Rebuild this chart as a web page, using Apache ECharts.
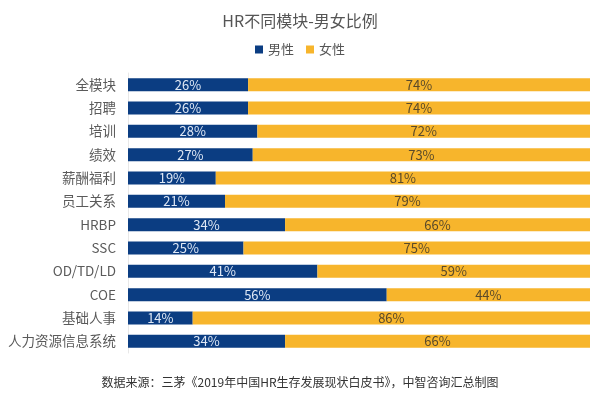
<!DOCTYPE html>
<html><head><meta charset="utf-8">
<script src="https://cdn.jsdelivr.net/npm/echarts@6/dist/echarts.min.js"></script>
<style>html,body{margin:0;padding:0;background:#fff}#c{width:600px;height:400px}</style>
</head><body><div id="c"></div>
<script>
const categories = ['全模块','招聘','培训','绩效','薪酬福利','员工关系','HRBP','SSC','OD/TD/LD','COE','基础人事','人力资源信息系统'];
const male = [26,26,28,27,19,21,34,25,41,56,14,34];
const female = [74,74,72,73,81,79,66,75,59,44,86,66];
const font = '"Noto Sans CJK SC", "Noto Sans", sans-serif';
const chart = echarts.init(document.getElementById('c'));
chart.setOption({
  animation:false,
  textStyle:{fontFamily:font},
  title:{text:'HR不同模块-男女比例',left:'center',top:8,textStyle:{fontSize:16,fontWeight:'normal',color:'#555',fontFamily:font}},
  legend:{top:38,left:'center',itemWidth:8,itemHeight:8,itemGap:12,icon:'rect',textStyle:{fontSize:13,color:'#555',fontFamily:font},data:['男性','女性']},
  graphic:[{type:'text',left:'center',top:376,style:{text:'数据来源：三茅《2019年中国HR生存发展现状白皮书》，中智咨询汇总制图',fontSize:12,fill:'#333',fontFamily:font}}],
  grid:{left:128,right:10,top:73,bottom:47},
  xAxis:{type:'value',min:0,max:100,show:false},
  yAxis:{type:'category',inverse:true,data:categories,axisLine:{show:true,lineStyle:{color:'#e8e8e8'}},axisTick:{show:false},axisLabel:{fontSize:13.5,color:'#5a5a5a',margin:12,fontFamily:font}},
  series:[
    {name:'男性',type:'bar',stack:'a',barWidth:13,data:male,itemStyle:{color:'#0b3d82'},label:{show:true,position:'inside',formatter:'{c}%',color:'#dfe8f5',fontSize:13,fontFamily:font}},
    {name:'女性',type:'bar',stack:'a',barWidth:13,data:female,itemStyle:{color:'#f7b52c'},label:{show:true,position:'inside',formatter:'{c}%',color:'#5a4a2a',fontSize:13,fontFamily:font}}
  ]
});
</script></body></html>
